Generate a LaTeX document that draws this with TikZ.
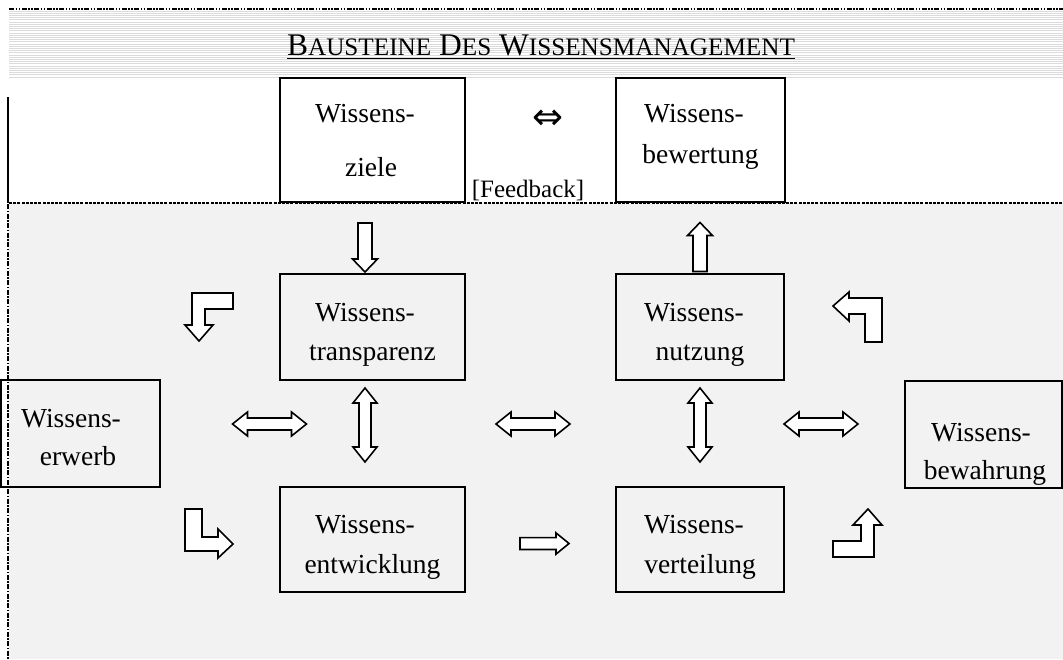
\documentclass[tikz,border=0pt]{standalone}
\usepackage{fontspec}
\setmainfont{Liberation Serif}
\newfontfamily\arrowfont{DejaVu Sans}
\begin{document}
\begin{tikzpicture}[x=1pt,y=-1pt,
  box/.style={draw, line width=2, inner sep=0},
  txt/.style={anchor=base, inner sep=0, font=\fontsize{27.5}{30}\selectfont},
  blockarrow/.style={draw, fill=white, line width=1.6, line join=miter},
  hatch/.style={draw=black!14, line width=1},
  pics/dblarrow/.style={code={
    \draw[blockarrow] (-37,0) -- (-22,-12) -- (-22,-6) -- (22,-6) -- (22,-12)
      -- (37,0) -- (22,12) -- (22,6) -- (-22,6) -- (-22,12) -- cycle;}},
  pics/sglarrow/.style={code={
    \draw[blockarrow] (-24.5,-7) -- (11.5,-7) -- (11.5,-12.5) -- (24.5,0)
      -- (11.5,12.5) -- (11.5,7) -- (-24.5,7) -- cycle;}}]
\useasboundingbox (0,0) rectangle (1063,659);

% lower panel and striped header band
\fill[black!5] (9,203) rectangle (1063,659);
\foreach \k in {0,...,30}
  \draw[hatch] (9,{11+2.2*\k}) -- (1063,{11+2.2*\k});

% frame lines
\draw[line width=1.5, dash pattern=on 5 off 1.5 on 1.5 off 1.5 on 1.5 off 1.5] (9,9) -- (1063,9);
\draw[line width=2] (8,97) -- (8,203);
\draw[line width=1.8, dash pattern=on 5 off 1.5 on 1.5 off 1.5] (8,204) -- (8,659);
\draw[line width=1.5, dash pattern=on 3 off 1.2] (9,203) -- (1063,203);

% title
\node[anchor=base, inner sep=0] (title) at (541,55)
  {\fontsize{31.5}{34}\selectfont B{\fontsize{25.2}{28}\selectfont AUSTEINE} D{\fontsize{25.2}{28}\selectfont ES} W{\fontsize{25.2}{28}\selectfont ISSENSMANAGEMENT}};
\draw[line width=1.5] ([yshift=-3.5]title.base west) -- ([yshift=-3.5]title.base east);

% building blocks
\node[box, fill=white, minimum width=185, minimum height=124] (ziele) at (372.5,140) {};
\node[box, fill=white, minimum width=169, minimum height=124] (bewert) at (700.5,140) {};
\node[box, minimum width=185, minimum height=106] (transp) at (372.5,327) {};
\node[box, minimum width=168, minimum height=106] (nutz) at (700,327) {};
\node[box, minimum width=185, minimum height=105] (entw) at (372.5,539.5) {};
\node[box, minimum width=168, minimum height=105] (vert) at (700,539.5) {};
\node[box, minimum width=159, minimum height=107] (erwerb) at (80.5,433.5) {};
\node[box, minimum width=157, minimum height=107] (bewahr) at (983.5,434.5) {};

% labels
\node[txt] at (365,122) {Wissens-};
\node[txt] at (371,176) {ziele};
\node[txt] at (694,122) {Wissens-};
\node[txt] at (700.5,163) {bewertung};
\node[txt] at (365,321) {Wissens-};
\node[txt] at (372.5,360) {transparenz};
\node[txt] at (694,321) {Wissens-};
\node[txt] at (700,360) {nutzung};
\node[txt] at (365,533) {Wissens-};
\node[txt] at (372.5,573) {entwicklung};
\node[txt] at (694,533) {Wissens-};
\node[txt] at (700,573) {verteilung};
\node[txt] at (71,427) {Wissens-};
\node[txt] at (78,465) {erwerb};
\node[txt] at (981,441) {Wissens-};
\node[txt] at (985,479) {bewahrung};

% feedback between goals and assessment
\node[inner sep=0] (fbarrow) at (548,120) {\arrowfont\fontsize{37}{37}\selectfont ⇔};
\node[anchor=base, inner sep=0, font=\fontsize{25}{28}\selectfont] (fb) at (528,197) {[Feedback]};

% straight block arrows
\pic[rotate=-90] at (365,247.5) {sglarrow};
\pic[rotate=90] at (700,247) {sglarrow};
\pic[yscale=0.85] at (544.5,543.5) {sglarrow};
\pic at (269.5,424) {dblarrow};
\pic at (533,424) {dblarrow};
\pic at (821,424) {dblarrow};
\pic[rotate=90] at (365,425) {dblarrow};
\pic[rotate=90] at (700,425) {dblarrow};

% bent block arrows
\draw[blockarrow] (192,293) -- (233,293) -- (233,309) -- (205,309) -- (205,325)
  -- (213,325) -- (199,341) -- (185,325) -- (192,325) -- cycle;
\draw[blockarrow] (185,509) -- (202,509) -- (202,537) -- (218,537) -- (218,529)
  -- (233,544) -- (218,558) -- (218,551) -- (185,551) -- cycle;
\draw[blockarrow] (849,292) -- (849,298) -- (882,298) -- (882,342) -- (865,342)
  -- (865,314) -- (849,314) -- (849,321) -- (833,306) -- cycle;
\draw[blockarrow] (868,509) -- (882,525) -- (874,525) -- (874,557) -- (833,557)
  -- (833,541) -- (861,541) -- (861,525) -- (853,525) -- cycle;
\end{tikzpicture}
\end{document}
